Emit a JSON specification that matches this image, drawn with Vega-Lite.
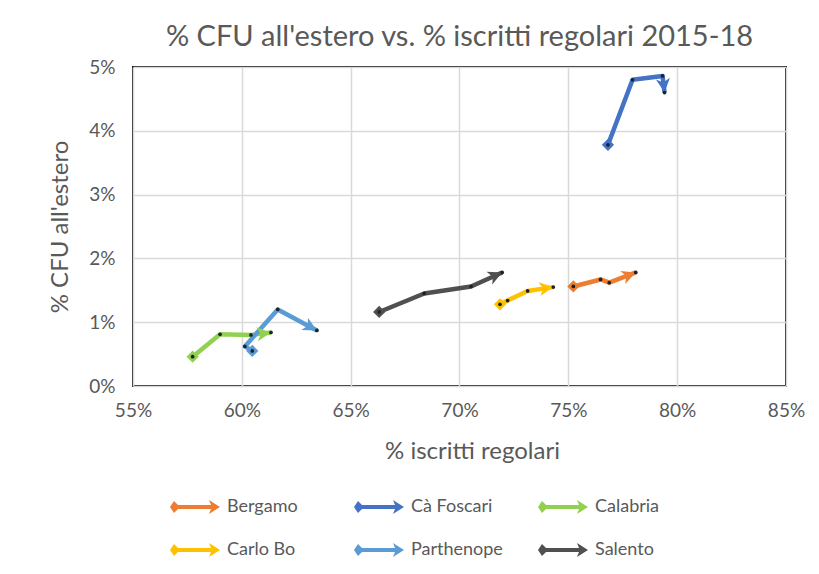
{
  "$schema": "https://vega.github.io/schema/vega-lite/v6.json",
  "width": 653,
  "height": 319,
  "autosize": {"type": "none"},
  "padding": {"left": 133, "top": 67, "right": 33, "bottom": 188},
  "background": "white",
  "title": {
    "text": "% CFU all'estero vs. % iscritti regolari 2015-18",
    "font": "Lato",
    "fontSize": 29,
    "fontWeight": "normal",
    "color": "#595959",
    "anchor": "middle",
    "frame": "group",
    "offset": 6
  },
  "config": {
    "font": "Lato",
    "view": {"stroke": "#1a1a1a", "strokeWidth": 2},
    "axis": {
      "domain": false,
      "ticks": false,
      "grid": true,
      "gridColor": "#D9D9D9",
      "gridWidth": 1.5,
      "labelFlush": false,
      "labelFont": "Lato",
      "labelFontSize": 19,
      "labelColor": "#595959",
      "titleFont": "Lato",
      "titleFontSize": 24,
      "titleFontWeight": "normal",
      "titleColor": "#595959"
    }
  },
  "data": {
    "values": [
      {"u": "Bergamo", "year": 2015, "x": 0.7523, "y": 0.0156},
      {"u": "Bergamo", "year": 2016, "x": 0.7648, "y": 0.0167},
      {"u": "Bergamo", "year": 2017, "x": 0.7688, "y": 0.0162},
      {"u": "Bergamo", "year": 2018, "x": 0.7810, "y": 0.0178},
      {"u": "Cà Foscari", "year": 2015, "x": 0.7682, "y": 0.0378},
      {"u": "Cà Foscari", "year": 2016, "x": 0.7795, "y": 0.0480},
      {"u": "Cà Foscari", "year": 2017, "x": 0.7933, "y": 0.0486},
      {"u": "Cà Foscari", "year": 2018, "x": 0.7942, "y": 0.0460},
      {"u": "Calabria", "year": 2015, "x": 0.5774, "y": 0.0046},
      {"u": "Calabria", "year": 2016, "x": 0.5900, "y": 0.0081},
      {"u": "Calabria", "year": 2017, "x": 0.6042, "y": 0.0080},
      {"u": "Calabria", "year": 2018, "x": 0.6134, "y": 0.0084},
      {"u": "Carlo Bo", "year": 2015, "x": 0.7186, "y": 0.0128},
      {"u": "Carlo Bo", "year": 2016, "x": 0.7221, "y": 0.0134},
      {"u": "Carlo Bo", "year": 2017, "x": 0.7313, "y": 0.0149},
      {"u": "Carlo Bo", "year": 2018, "x": 0.7431, "y": 0.0155},
      {"u": "Parthenope", "year": 2015, "x": 0.6048, "y": 0.0055},
      {"u": "Parthenope", "year": 2016, "x": 0.6014, "y": 0.0062},
      {"u": "Parthenope", "year": 2017, "x": 0.6165, "y": 0.0120},
      {"u": "Parthenope", "year": 2018, "x": 0.6345, "y": 0.0087},
      {"u": "Salento", "year": 2015, "x": 0.6631, "y": 0.0116},
      {"u": "Salento", "year": 2016, "x": 0.6838, "y": 0.0145},
      {"u": "Salento", "year": 2017, "x": 0.7053, "y": 0.0156},
      {"u": "Salento", "year": 2018, "x": 0.7196, "y": 0.0178}
    ]
  },
  "transform": [
    {"window": [{"op": "lag", "field": "x", "as": "px"}, {"op": "lag", "field": "y", "as": "py"}], "groupby": ["u"], "sort": [{"field": "year"}]},
    {"calculate": "datum.px == null ? 0 : atan2((datum.x - datum.px) * 2176.7, (datum.y - datum.py) * 6380) * 180 / PI", "as": "ang"}
  ],
  "encoding": {
    "x": {"field": "x", "type": "quantitative", "scale": {"domain": [0.55, 0.85], "nice": false, "zero": false}, "axis": {"values": [0.55, 0.6, 0.65, 0.7, 0.75, 0.8, 0.85], "format": ".0%", "title": "% iscritti regolari", "labelPadding": 15, "titlePadding": 19, "titleX": 339}},
    "y": {"field": "y", "type": "quantitative", "scale": {"domain": [0, 0.05], "nice": false}, "axis": {"values": [0, 0.01, 0.02, 0.03, 0.04, 0.05], "format": ".0%", "title": "% CFU all'estero", "labelPadding": 18, "titlePadding": 16}}
  },
  "layer": [
    {
      "mark": {"type": "line", "strokeWidth": 4.5, "strokeCap": "butt", "strokeJoin": "round"},
      "encoding": {
        "stroke": {"field": "u", "type": "nominal", "scale": {"domain": ["Salento", "Parthenope", "Carlo Bo", "Calabria", "Cà Foscari", "Bergamo"], "range": ["#505050", "#5B9BD5", "#FFC000", "#92D050", "#4472C4", "#ED7D31"]}, "legend": null},
        "order": {"field": "year"}
      }
    },
    {
      "transform": [{"filter": "datum.year == 2018"}],
      "mark": {"type": "point", "shape": "M0,0 L0.55,1.1 L0,0.8 L-0.55,1.1 Z", "filled": true, "size": 650, "opacity": 1, "strokeWidth": 0},
      "encoding": {
        "fill": {"field": "u", "type": "nominal"},
        "angle": {"field": "ang", "type": "quantitative", "scale": null}
      }
    },
    {
      "transform": [{"filter": "datum.year == 2015"}],
      "mark": {"type": "point", "shape": "diamond", "filled": true, "size": 150, "opacity": 1, "strokeWidth": 0},
      "encoding": {
        "fill": {"field": "u", "type": "nominal", "scale": {"domain": ["Bergamo", "Cà Foscari", "Calabria", "Carlo Bo", "Parthenope", "Salento"], "range": ["#ED7D31", "#4472C4", "#92D050", "#FFC000", "#5B9BD5", "#505050"]},
          "legend": {
            "title": null,
            "orient": "none",
            "legendX": 42,
            "legendY": 420,
            "direction": "horizontal",
            "columns": 3,
            "gridAlign": "all",
            "padding": 0,
            "columnPadding": 35,
            "rowPadding": 14,
            "symbolType": "M-1.25,0 L-1.05,-0.3 L-0.85,-0.1 L0.8,-0.1 L0.7,-0.35 L1.25,0 L0.7,0.35 L0.8,0.1 L-0.85,0.1 L-1.05,0.3 Z",
            "symbolSize": 1600,
            "symbolStrokeWidth": 0,
            "symbolOpacity": 1,
            "labelOffset": 12,
            "labelFont": "Lato",
            "labelFontSize": 18,
            "labelColor": "#595959"
          }
        }
      }
    },
    {
      "mark": {"type": "circle", "size": 14, "color": "#1b2330", "opacity": 1}
    }
  ]
}
